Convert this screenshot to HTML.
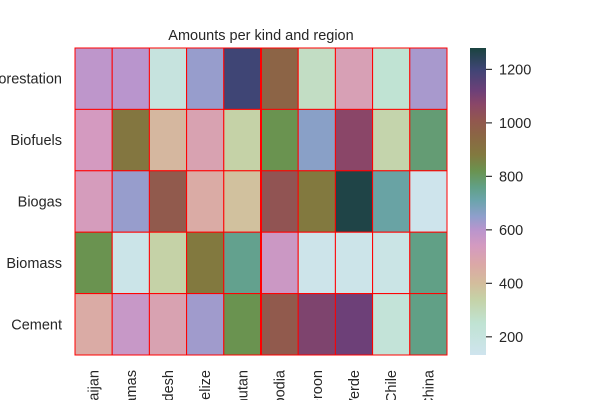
<!DOCTYPE html>
<html><head><meta charset="utf-8"><style>
html,body{margin:0;background:#fff;width:600px;height:400px;overflow:hidden;}
svg{display:block;font-family:"Liberation Sans","DejaVu Sans",sans-serif;overflow:hidden;}
</style></head><body>
<svg id="chart" width="600" height="400" xmlns="http://www.w3.org/2000/svg">
<defs>
<linearGradient id="cmap" x1="0" y1="1" x2="0" y2="0"></linearGradient>
<clipPath id="frame"><rect x="0" y="0" width="600" height="400"/></clipPath>
</defs>
<text x="261" y="40" text-anchor="middle" font-size="14.5" fill="#262626">Amounts per kind and region</text>
<g id="cells"></g>
<g id="ylabels"></g>
<g id="xlabels" clip-path="url(#frame)"></g>
<g id="cbar"></g>
</svg>
<script>
const regions = ["Azerbaijan","Bahamas","Bangladesh","Belize","Bhutan","Cambodia","Cameroon","Cabo Verde","Chile","China"];
const kinds = ["Deforestation","Biofuels","Biogas","Biomass","Cement"];
const rowDeforestation = [590,600,200,640,1200,960,280,510,250,620];
const rowBiofuels = [540,890,420,500,340,820,660,1070,330,780];
const rowBiogas = [530,640,1000,460,390,1020,880,1270,720,140];
const rowBiomass = [820,160,340,880,750,560,150,155,170,760];
const rowCement = [460,570,500,630,820,1000,1090,1120,230,760];
const values = [rowDeforestation,rowBiofuels,rowBiogas,rowBiomass,rowCement];
const cbTicks = [200,400,600,800,1000,1200];
const vmin = 132, vmax = 1280;

const stops = [[132,"#cfe4ee"],[250,"#c0e3d3"],[340,"#c5d2a7"],[400,"#d3bd9c"],[470,"#dba8a6"],[540,"#d49ac0"],[600,"#b995cd"],[650,"#8f9fcc"],[710,"#6ba4ac"],[760,"#61a086"],[820,"#6a9350"],[880,"#82793f"],[950,"#8b6744"],[1010,"#92574f"],[1070,"#8a4668"],[1120,"#6d4078"],[1200,"#3f4575"],[1280,"#1a4440"]];
function hex2rgb(h){return [1,3,5].map(i=>parseInt(h.substr(i,2),16));}
function color(v){
  if(v<=stops[0][0]) return stops[0][1];
  for(let i=1;i<stops.length;i++){
    if(v<=stops[i][0]){
      const t=(v-stops[i-1][0])/(stops[i][0]-stops[i-1][0]);
      const a=hex2rgb(stops[i-1][1]), b=hex2rgb(stops[i][1]);
      return "rgb("+a.map((c,k)=>Math.round(c+(b[k]-c)*t)).join(",")+")";
    }
  }
  return stops[stops.length-1][1];
}
const NS="http://www.w3.org/2000/svg";
const X0=75, X1=447, Y0=48, Y1=355;
const cw=(X1-X0)/regions.length, ch=(Y1-Y0)/kinds.length;
const xPos=i=>X0+i*cw, yPos=j=>Y0+j*ch;
const cells=document.getElementById("cells");
values.forEach((row,j)=>row.forEach((v,i)=>{
  const r=document.createElementNS(NS,"rect");
  r.setAttribute("x",xPos(i));r.setAttribute("y",yPos(j));
  r.setAttribute("width",cw);r.setAttribute("height",ch);
  r.setAttribute("fill",color(v));r.setAttribute("stroke","#ff0000");r.setAttribute("stroke-width","1");
  
  
  cells.appendChild(r);
}));
const thick=document.createElementNS(NS,"line");
thick.setAttribute("x1",xPos(5));thick.setAttribute("x2",xPos(5));thick.setAttribute("y1",Y0);thick.setAttribute("y2",Y1);
thick.setAttribute("stroke","#ff0000");thick.setAttribute("stroke-width","2");


cells.appendChild(thick);
const yl=document.getElementById("ylabels");
kinds.forEach((k,j)=>{
  const t=document.createElementNS(NS,"text");
  t.setAttribute("x",62);t.setAttribute("y",yPos(j)+ch/2+5);
  t.setAttribute("text-anchor","end");t.setAttribute("font-size","14.5");t.setAttribute("fill","#262626");
  t.textContent=k;
  
  
  yl.appendChild(t);
});
const xl=document.getElementById("xlabels");
regions.forEach((r,i)=>{
  const t=document.createElementNS(NS,"text");
  const cx=xPos(i)+cw/2+5, cy=370;
  t.setAttribute("x",cx);t.setAttribute("y",cy);
  t.setAttribute("transform","rotate(-90 "+cx+" "+cy+")");
  t.setAttribute("text-anchor","end");t.setAttribute("font-size","14.5");t.setAttribute("fill","#262626");
  t.textContent=r;
  
  
  xl.appendChild(t);
});
const grad=document.getElementById("cmap");
stops.forEach(s=>{
  const st=document.createElementNS(NS,"stop");
  st.setAttribute("offset",(s[0]-vmin)/(vmax-vmin));st.setAttribute("stop-color",s[1]);
  grad.appendChild(st);
});
const cb=document.getElementById("cbar");
const CBX=470, CBW=16;
const cbY=v=>Y1-(v-vmin)/(vmax-vmin)*(Y1-Y0);
const cr=document.createElementNS(NS,"rect");
cr.setAttribute("x",CBX);cr.setAttribute("y",Y0);cr.setAttribute("width",CBW);cr.setAttribute("height",Y1-Y0);
cr.setAttribute("fill","url(#cmap)");


cb.appendChild(cr);
cbTicks.forEach(v=>{
  const y=cbY(v);
  const l=document.createElementNS(NS,"line");
  l.setAttribute("x1",CBX+CBW);l.setAttribute("x2",CBX+CBW+6);l.setAttribute("y1",y);l.setAttribute("y2",y);
  l.setAttribute("stroke","#333");l.setAttribute("stroke-width","1.2");
  
  
  cb.appendChild(l);
  const t=document.createElementNS(NS,"text");
  t.setAttribute("x",CBX+CBW+13);t.setAttribute("y",y+5);t.setAttribute("font-size","14.5");t.setAttribute("fill","#262626");
  t.textContent=v;
  
  
  cb.appendChild(t);
});
</script>
</body></html>
